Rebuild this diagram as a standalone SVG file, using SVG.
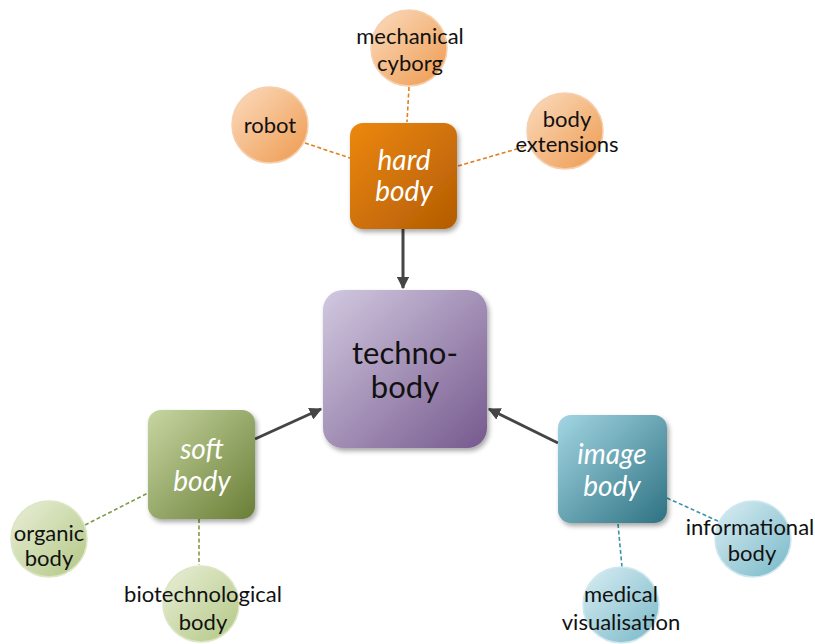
<svg xmlns="http://www.w3.org/2000/svg" width="815" height="644" viewBox="0 0 815 644">
  <style>
    text { font-family: Lato, "Liberation Sans", sans-serif; text-anchor: middle; }
    .leaf { font-size: 22px; fill: #111; }
    .cat { font-size: 28px; fill: #fff; font-style: italic; }
    .core { font-size: 31px; fill: #111; }
    .arrow { stroke: #454545; stroke-width: 3; fill: none; marker-end: url(#head); }
    .dash { stroke-width: 1.6; fill: none; stroke-dasharray: 4 2.5; }
  </style>
  <defs>
    <marker id="head" viewBox="0 0 10 10" refX="9" refY="5" markerWidth="4.2" markerHeight="4.2" orient="auto" markerUnits="strokeWidth">
      <path d="M0,0 L10,5 L0,10 z" fill="#454545"/>
    </marker>
    <filter id="shadow" x="-20%" y="-20%" width="150%" height="150%">
      <feGaussianBlur in="SourceAlpha" stdDeviation="2.5"/>
      <feOffset dx="1.5" dy="3" result="b"/>
      <feComponentTransfer><feFuncA type="linear" slope="0.35"/></feComponentTransfer>
      <feMerge><feMergeNode/><feMergeNode in="SourceGraphic"/></feMerge>
    </filter>
    <linearGradient id="gHard" x1="0" y1="0" x2="1" y2="1">
      <stop offset="0" stop-color="#EC8810"/>
      <stop offset="1" stop-color="#B35C03"/>
    </linearGradient>
    <linearGradient id="gCore" x1="0" y1="0" x2="1" y2="1">
      <stop offset="0" stop-color="#D2C9E0"/>
      <stop offset="1" stop-color="#76598E"/>
    </linearGradient>
    <linearGradient id="gSoft" x1="0" y1="0" x2="1" y2="1">
      <stop offset="0" stop-color="#C8D6A2"/>
      <stop offset="1" stop-color="#697E35"/>
    </linearGradient>
    <linearGradient id="gImage" x1="0" y1="0" x2="1" y2="1">
      <stop offset="0" stop-color="#A3D6E3"/>
      <stop offset="1" stop-color="#2E7282"/>
    </linearGradient>
    <linearGradient id="cOrange" x1="0" y1="0" x2="1" y2="1">
      <stop offset="0" stop-color="#FBDCC0"/>
      <stop offset="1" stop-color="#EE9A4E"/>
    </linearGradient>
    <linearGradient id="cGreen" x1="0" y1="0" x2="1" y2="1">
      <stop offset="0" stop-color="#E9EFD8"/>
      <stop offset="1" stop-color="#B3C784"/>
    </linearGradient>
    <linearGradient id="cBlue" x1="0" y1="0" x2="1" y2="1">
      <stop offset="0" stop-color="#DAEEF3"/>
      <stop offset="1" stop-color="#78B8C8"/>
    </linearGradient>
  </defs>

  <!-- connectors -->
  <g id="connectors">
    <line class="dash" stroke="#E0801E" x1="305" y1="143" x2="350" y2="158"/>
    <line class="dash" stroke="#E0801E" x1="409" y1="87" x2="407" y2="122"/>
    <line class="dash" stroke="#E0801E" x1="458" y1="166" x2="527" y2="146"/>
    <line class="dash" stroke="#7F9A45" x1="85" y1="525" x2="148" y2="493"/>
    <line class="dash" stroke="#7F9A45" x1="199" y1="519" x2="199" y2="565"/>
    <line class="dash" stroke="#3C93A8" x1="667" y1="498" x2="720" y2="522"/>
    <line class="dash" stroke="#3C93A8" x1="618" y1="524" x2="622" y2="567"/>
    <line class="arrow" x1="403" y1="229" x2="403" y2="288"/>
    <line class="arrow" x1="255" y1="439" x2="321" y2="409"/>
    <line class="arrow" x1="558" y1="443" x2="489" y2="409"/>
  </g>

  <!-- hard body cluster -->
  <g id="robot">
    <circle cx="270" cy="125" r="38" fill="url(#cOrange)" stroke="#F6CFAE" stroke-width="1.5"/>
    <text class="leaf" x="270" y="133">robot</text>
  </g>
  <g id="mechanical-cyborg">
    <circle cx="409" cy="48" r="38" fill="url(#cOrange)" stroke="#F6CFAE" stroke-width="1.5"/>
    <text class="leaf" x="410" y="44">mechanical</text>
    <text class="leaf" x="410" y="71">cyborg</text>
  </g>
  <g id="body-extensions">
    <circle cx="565" cy="131" r="38" fill="url(#cOrange)" stroke="#F6CFAE" stroke-width="1.5"/>
    <text class="leaf" x="567" y="127">body</text>
    <text class="leaf" x="567" y="152">extensions</text>
  </g>
  <g id="hard-body">
    <rect x="350" y="123" width="107" height="106" rx="13" fill="url(#gHard)" filter="url(#shadow)"/>
    <text class="cat" x="404" y="170">hard</text>
    <text class="cat" x="404" y="201">body</text>
  </g>

  <!-- core -->
  <g id="techno-body">
    <rect x="323" y="290" width="164" height="158" rx="20" fill="url(#gCore)" filter="url(#shadow)"/>
    <text class="core" x="405" y="364">techno-</text>
    <text class="core" x="405" y="398">body</text>
  </g>

  <!-- soft body cluster -->
  <g id="soft-body">
    <rect x="148" y="410" width="107" height="109" rx="13" fill="url(#gSoft)" filter="url(#shadow)"/>
    <text class="cat" x="202" y="459">soft</text>
    <text class="cat" x="202" y="491">body</text>
  </g>
  <g id="organic-body">
    <circle cx="49" cy="539" r="38" fill="url(#cGreen)" stroke="#DCE6C4" stroke-width="1.5"/>
    <text class="leaf" x="49" y="541">organic</text>
    <text class="leaf" x="49" y="566">body</text>
  </g>
  <g id="biotechnological-body">
    <circle cx="201" cy="604" r="38" fill="url(#cGreen)" stroke="#DCE6C4" stroke-width="1.5"/>
    <text class="leaf" x="203" y="602">biotechnological</text>
    <text class="leaf" x="203" y="630">body</text>
  </g>

  <!-- image body cluster -->
  <g id="image-body">
    <rect x="558" y="415" width="109" height="108" rx="13" fill="url(#gImage)" filter="url(#shadow)"/>
    <text class="cat" x="612" y="464">image</text>
    <text class="cat" x="612" y="496">body</text>
  </g>
  <g id="informational-body">
    <circle cx="753" cy="539" r="38" fill="url(#cBlue)" stroke="#CFE8EF" stroke-width="1.5"/>
    <text class="leaf" x="750" y="535">informational</text>
    <text class="leaf" x="752" y="561">body</text>
  </g>
  <g id="medical-visualisation">
    <circle cx="621" cy="605" r="38" fill="url(#cBlue)" stroke="#CFE8EF" stroke-width="1.5"/>
    <text class="leaf" x="621" y="602">medical</text>
    <text class="leaf" x="621" y="630">visualisation</text>
  </g>
</svg>
